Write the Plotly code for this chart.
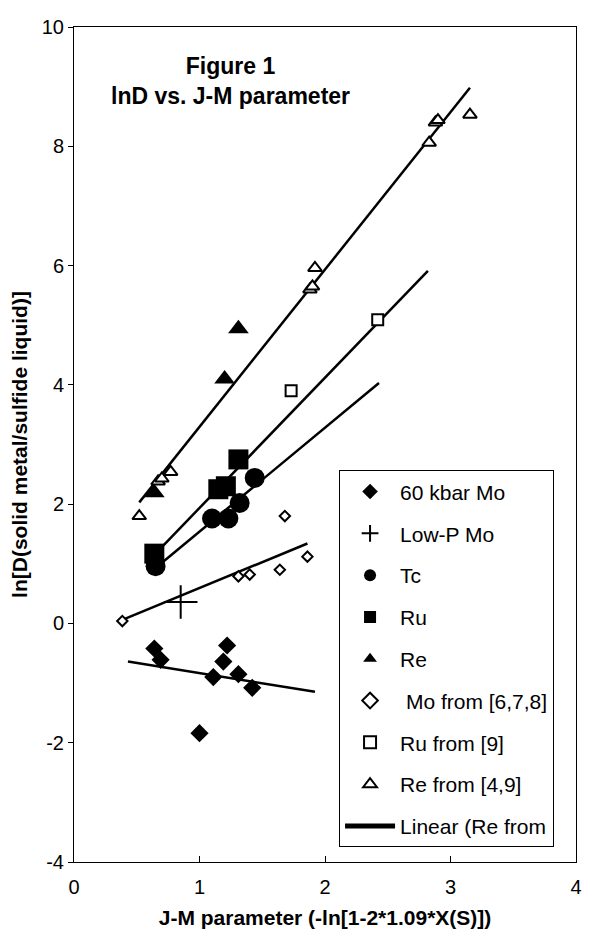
import plotly.graph_objects as go

# ---------------- data ----------------
kbar60_mo_x = [0.64, 0.69, 1.22, 1.19, 1.11, 1.31, 1.42, 1.00]
kbar60_mo_y = [-0.42, -0.61, -0.37, -0.64, -0.90, -0.85, -1.08, -1.84]

lowp_mo_x = [0.85]
lowp_mo_y = [0.36]

tc_x = [0.65, 1.10, 1.23, 1.32, 1.44]
tc_y = [0.96, 1.76, 1.76, 2.02, 2.44]

ru_x = [0.64, 1.15, 1.21, 1.31]
ru_y = [1.17, 2.25, 2.30, 2.75]

re_x = [0.64, 1.20, 1.31]
re_y = [2.19, 4.10, 4.94]

mo_lit_x = [0.385, 1.31, 1.40, 1.64, 1.68, 1.86]
mo_lit_y = [0.04, 0.79, 0.82, 0.90, 1.80, 1.12]

ru_lit_x = [1.73, 2.42]
ru_lit_y = [3.90, 5.09]

re_lit_x = [0.52, 0.67, 0.70, 0.77, 1.88, 1.90, 1.92, 2.83, 2.88, 2.90, 3.155]
re_lit_y = [1.80, 2.38, 2.43, 2.54, 5.60, 5.65, 5.96, 8.06, 8.40, 8.44, 8.53]

# trend lines (end points)
re_lit_fit_x = [0.52, 3.155]
re_lit_fit_y = [2.03, 8.98]
ru_fit_x = [0.64, 2.82]
ru_fit_y = [1.15, 5.91]
tc_fit_x = [0.65, 2.43]
tc_fit_y = [0.93, 4.03]
mo_fit_x = [0.385, 1.86]
mo_fit_y = [0.06, 1.34]
kbar60_fit_x = [0.43, 1.92]
kbar60_fit_y = [-0.64, -1.145]

x_tick_vals = [0, 1, 2, 3, 4]
x_tick_text = ["0", "1", "2", "3", "4"]
y_tick_vals = [-4, -2, 0, 2, 4, 6, 8, 10]
y_tick_text = ["-4", "-2", "0", "2", "4", "6", "8", "10"]

FONT = "Liberation Sans, Arial, sans-serif"
LINE_W = 2.5

fig = go.Figure()

# trend lines (under the markers)
for fx, fy in [(ru_fit_x, ru_fit_y), (tc_fit_x, tc_fit_y),
               (mo_fit_x, mo_fit_y), (kbar60_fit_x, kbar60_fit_y)]:
    fig.add_trace(go.Scatter(x=fx, y=fy, mode="lines", showlegend=False,
                             line=dict(color="black", width=LINE_W), hoverinfo="skip"))
fig.add_trace(go.Scatter(x=re_lit_fit_x, y=re_lit_fit_y, mode="lines",
                         name="Linear (Re from", legendrank=9, legendgroup="g9",
                         line=dict(color="black", width=LINE_W)))

series = [
    ("60 kbar Mo", kbar60_mo_x, kbar60_mo_y, dict(symbol="diamond", size=14, color="black")),
    ("Low-P Mo", lowp_mo_x, lowp_mo_y, dict(symbol="cross-thin-open", size=24,
                                           line=dict(color="black", width=2), color="black")),
    ("Tc", tc_x, tc_y, dict(symbol="circle", size=20, color="black")),
    ("Ru", ru_x, ru_y, dict(symbol="square", size=20, color="black")),
    ("Re", re_x, re_y, dict(symbol="triangle-up", size=18, color="black")),
    (" Mo from [6,7,8]", mo_lit_x, mo_lit_y, dict(symbol="diamond", size=8, color="white",
                                                 line=dict(color="black", width=2))),
    ("Ru from [9]", ru_lit_x, ru_lit_y, dict(symbol="square", size=11, color="white",
                                            line=dict(color="black", width=2))),
    ("Re from [4,9]", re_lit_x, re_lit_y, dict(symbol="triangle-up", size=12, color="white",
                                              line=dict(color="black", width=2))),
]
for i, (name, xs, ys, mk) in enumerate(series):
    fig.add_trace(go.Scatter(x=xs, y=ys, mode="markers", name=name, marker=mk,
                             legendrank=i + 1, legendgroup="g%d" % i))

fig.add_annotation(text="<b>Figure 1<br>lnD vs. J-M parameter</b>",
                   xref="paper", yref="paper", x=0.311, y=0.935,
                   xanchor="center", yanchor="middle", showarrow=False,
                   font=dict(family=FONT, size=23, color="black"))

# the page places the figure 8 px in from the top-left corner,
# so the figure is 8 px smaller than the 590x943 window
fig.update_layout(
    width=582, height=935,
    margin=dict(l=66, r=9, t=8, b=81),
    paper_bgcolor="white", plot_bgcolor="white",
    font=dict(family=FONT, size=20, color="black"),
    showlegend=True,
    legend=dict(x=0.528, y=0.469, xanchor="left", yanchor="top",
                bgcolor="white", bordercolor="black", borderwidth=1,
                font=dict(family=FONT, size=21, color="black"),
                itemsizing="constant", itemwidth=50, tracegroupgap=11.5),
    xaxis=dict(range=[0, 4], tickvals=x_tick_vals, ticktext=x_tick_text,
               ticks="inside", ticklen=6, tickcolor="black", ticklabelstandoff=7,
               ticklabeloverflow="allow",
               showline=True, linecolor="black", linewidth=1, mirror=True,
               showgrid=False, zeroline=False,
               title=dict(text="<b>J-M parameter (-ln[1-2*1.09*X(S)])</b>",
                          font=dict(size=21), standoff=13)),
    yaxis=dict(range=[-4, 10], tickvals=y_tick_vals, ticktext=y_tick_text,
               ticks="outside", ticklen=5, tickcolor="black",
               ticklabeloverflow="allow",
               showline=True, linecolor="black", linewidth=1, mirror=True,
               showgrid=False, zeroline=False,
               title=dict(text="<b>ln[D(solid metal/sulfide liquid)]</b>",
                          font=dict(size=21), standoff=8)),
    yaxis2=dict(overlaying="y", matches="y", side="left", anchor="x",
                tickvals=y_tick_vals, ticks="inside", ticklen=6, tickcolor="black",
                showticklabels=False, showgrid=False, zeroline=False, showline=False),
)

fig.write_html("out.html")
